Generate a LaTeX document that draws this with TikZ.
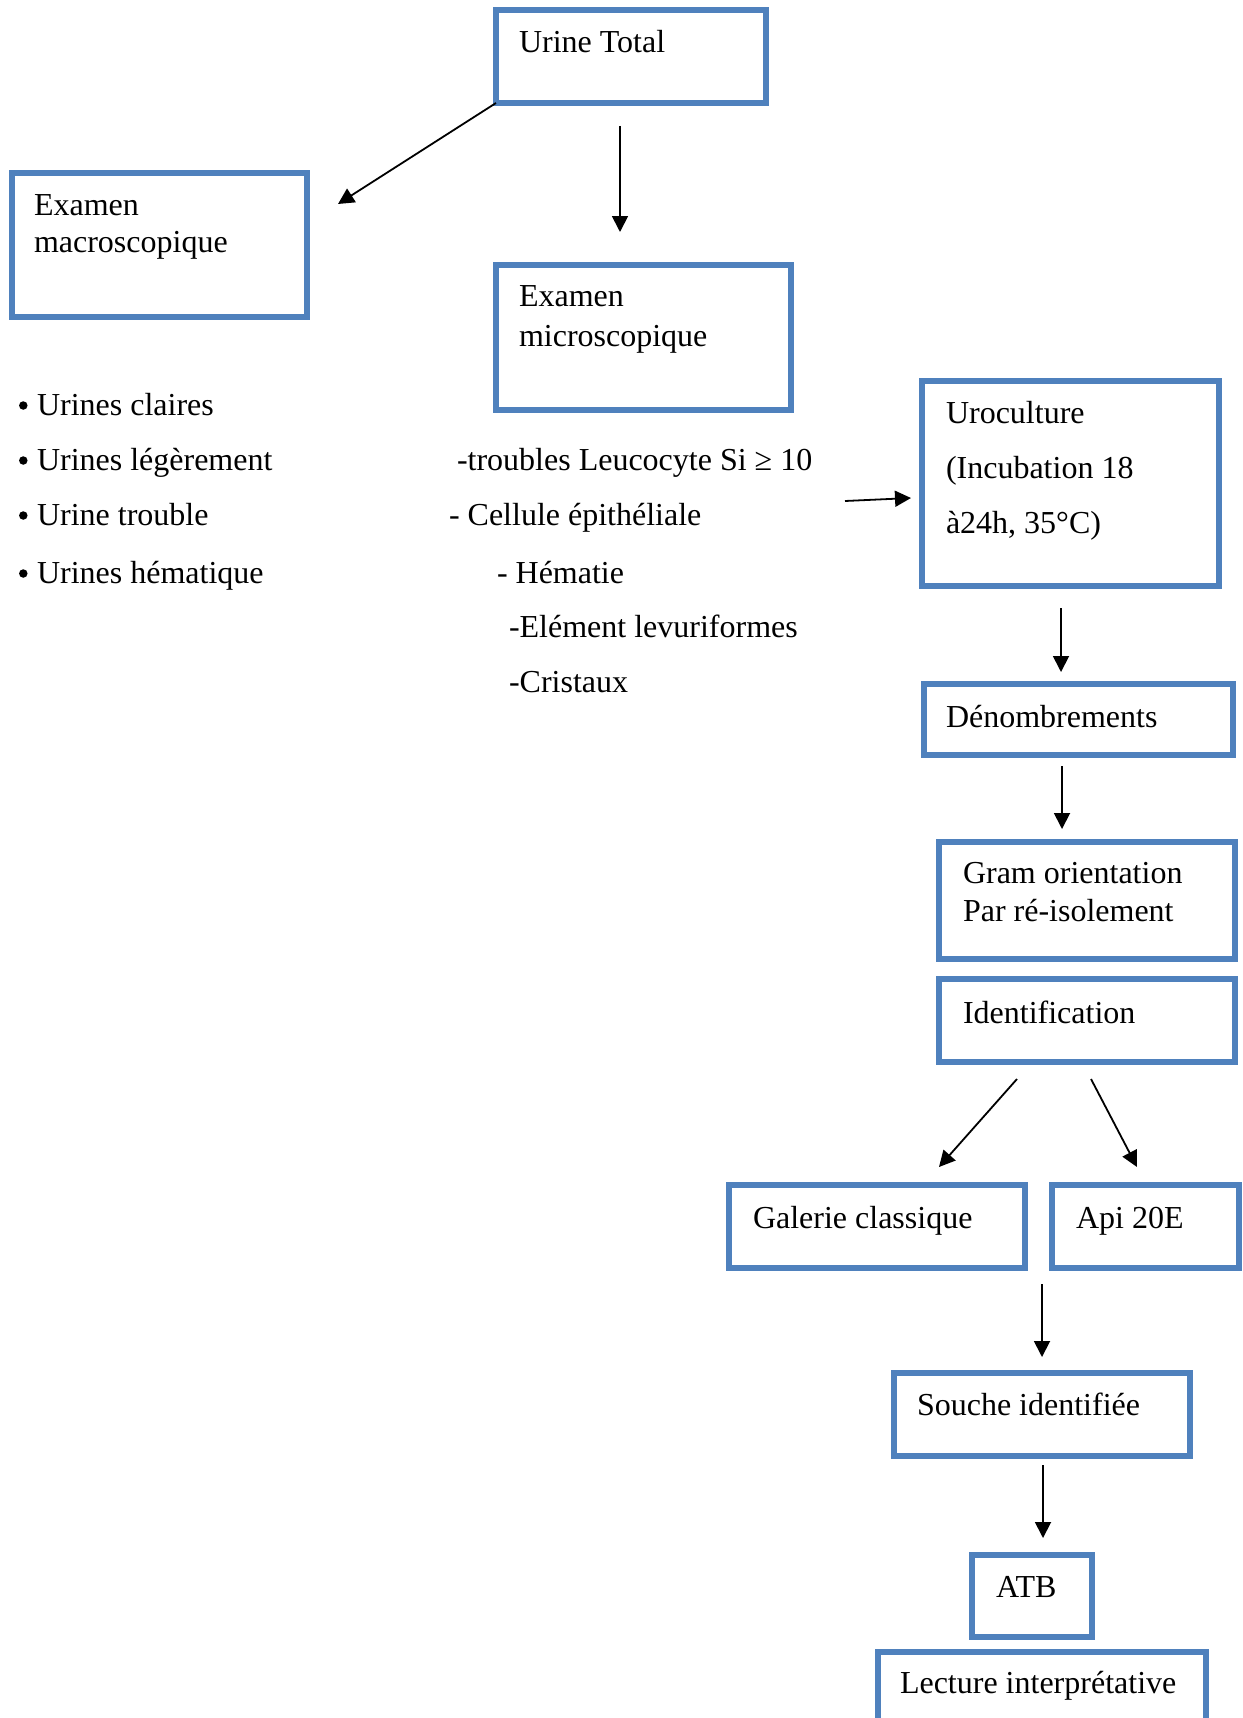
\documentclass[tikz,border=0pt]{standalone}
\usepackage{fontspec}
\setmainfont{Liberation Serif}
\usetikzlibrary{arrows.meta}
\definecolor{boxblue}{HTML}{4F81BD}
\begin{document}
\begin{tikzpicture}[x=1pt,y=-1pt,
  box/.style={draw=boxblue, line width=6pt, rectangle, inner sep=0pt, outer sep=0pt},
  txt/.style={anchor=base west, inner sep=0pt, outer sep=0pt, font=\fontsize{32}{38}\selectfont},
  bul/.style={circle, fill=black, inner sep=0pt, minimum size=8.5pt},
  arr/.style={-{Triangle[length=16pt,width=16pt]}, line width=1.8pt}]
\clip (0,0) rectangle (1242,1718);
\fill[white] (0,0) rectangle (1242,1718);

% boxes
\node[box, minimum width=270pt, minimum height=93pt]  (ut)     at (631,56.5)   {};
\node[box, minimum width=295pt, minimum height=144pt] (macro)  at (159.5,245)  {};
\node[box, minimum width=295pt, minimum height=145pt] (micro)  at (643.5,337.5){};
\node[box, minimum width=297pt, minimum height=205pt] (uro)    at (1070.5,483.5){};
\node[box, minimum width=309pt, minimum height=71pt]  (denom)  at (1078.5,719.5){};
\node[box, minimum width=296pt, minimum height=117pt] (gram)   at (1087,900.5) {};
\node[box, minimum width=296pt, minimum height=83pt]  (ident)  at (1087,1020.5){};
\node[box, minimum width=296pt, minimum height=83pt]  (gal)    at (877,1226.5) {};
\node[box, minimum width=187pt, minimum height=83pt]  (api)    at (1145.5,1226.5){};
\node[box, minimum width=296pt, minimum height=83pt]  (souche) at (1042,1414.5){};
\node[box, minimum width=120pt, minimum height=82pt]  (atb)    at (1032,1596)  {};
\node[box, minimum width=328pt, minimum height=108pt] (lect)   at (1042,1706)  {};

% box texts
\node[txt] (tut)  at (519,53)  {Urine Total};
\node[txt] (tma1) at (34,215)  {Examen};
\node[txt] (tma2) at (34,252)  {macroscopique};
\node[txt] (tmi1) at (519,306) {Examen};
\node[txt] (tmi2) at (519,346) {microscopique};
\node[txt] (tur1) at (946,423) {Uroculture};
\node[txt] (tur2) at (946,478) {(Incubation 18};
\node[txt] (tur3) at (946,533) {à24h, 35°C)};
\node[txt] (tden) at (946,727) {Dénombrements};
\node[txt] (tgr1) at (963,883) {Gram orientation};
\node[txt] (tgr2) at (963,921) {Par ré-isolement};
\node[txt] (tid)  at (963,1023){Identification};
\node[txt] (tgal) at (753,1228){Galerie classique};
\node[txt] (tapi) at (1076,1228){Api 20E};
\node[txt] (tsou) at (917,1415){Souche identifiée};
\node[txt] (tatb) at (996,1597){ATB};
\node[txt] (tlec) at (900,1693){Lecture interprétative};

% left list
\node[bul] (b1) at (23.3,405.5) {};
\node[bul] (b2) at (23.3,460.5) {};
\node[bul] (b3) at (23.3,515.5) {};
\node[bul] (b4) at (23.3,573.5) {};
\node[txt] (l1) at (37,415) {Urines claires};
\node[txt] (l2) at (37,470) {Urines légèrement};
\node[txt] (l3) at (37,525) {Urine trouble};
\node[txt] (l4) at (37,583) {Urines hématique};

% middle list
\node[txt] (m1) at (457,470) {-troubles Leucocyte Si ≥ 10};
\node[txt] (m2) at (449,525) {- Cellule épithéliale};
\node[txt] (m3) at (497,583) {- Hématie};
\node[txt] (m4) at (509,637) {-Elément levuriformes};
\node[txt] (m5) at (509,692) {-Cristaux};

% connector end points
\coordinate (a1e) at (338,204);
\coordinate (a2s) at (620,126);  \coordinate (a2e) at (620,232);
\coordinate (a3s) at (845,501);  \coordinate (a3e) at (911,498);
\coordinate (a4s) at (1061,608); \coordinate (a4e) at (1061,672);
\coordinate (a5s) at (1062,766); \coordinate (a5e) at (1062,829);
\coordinate (a6s) at (1017,1079);\coordinate (a6e) at (939,1167);
\coordinate (a7s) at (1091,1079);\coordinate (a7e) at (1137,1167);
\coordinate (a8s) at (1042,1284);\coordinate (a8e) at (1042,1357);
\coordinate (a9s) at (1043,1465);\coordinate (a9e) at (1043,1538);

\draw[arr] (ut.south west) -- (a1e);
\draw[arr] (a2s) -- (a2e);
\draw[arr] (a3s) -- (a3e);
\draw[arr] (a4s) -- (a4e);
\draw[arr] (a5s) -- (a5e);
\draw[arr] (a6s) -- (a6e);
\draw[arr] (a7s) -- (a7e);
\draw[arr] (a8s) -- (a8e);
\draw[arr] (a9s) -- (a9e);
\end{tikzpicture}
\end{document}
